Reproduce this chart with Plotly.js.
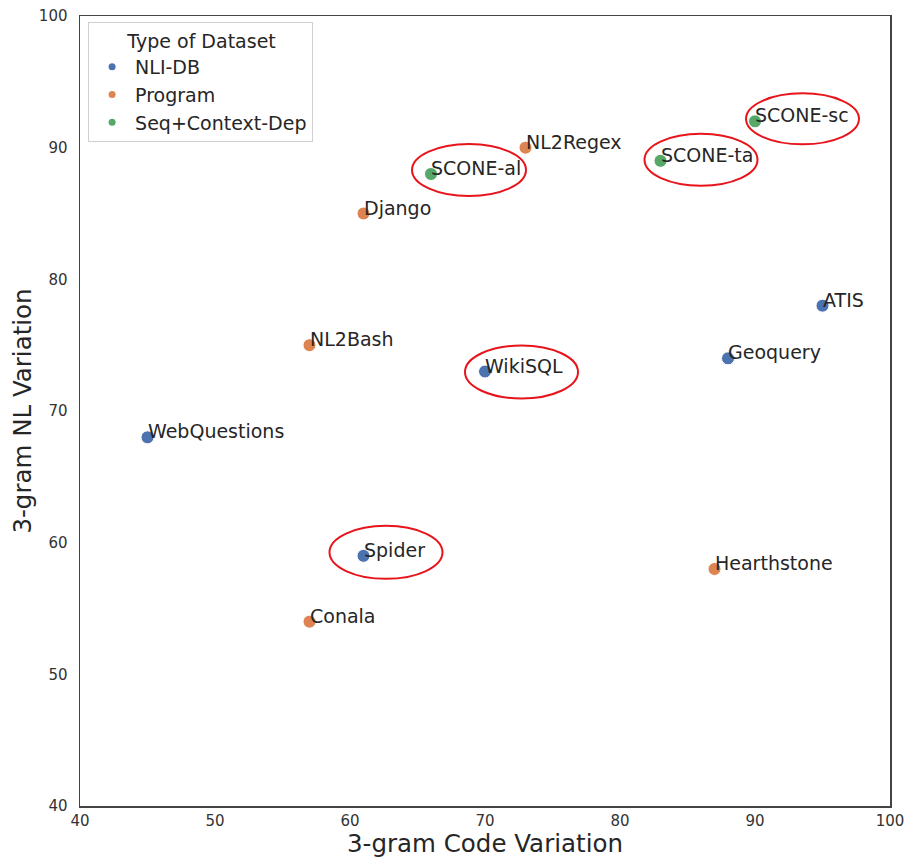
<!DOCTYPE html>
<html>
<head>
<meta charset="utf-8">
<script src="https://cdn.plot.ly/plotly-3.0.1.min.js"></script>
<style>
  html, body { margin: 0; padding: 0; background: #fff; }
  #chart { width: 909px; height: 858px; }
</style>
</head>
<body>
<div id="chart"></div>
<script>
// Dataset names with their 3-gram variation scores and dataset type
const datasets = ["WebQuestions", "Spider", "WikiSQL", "Geoquery", "ATIS",
                  "NL2Bash", "Conala", "Django", "NL2Regex", "Hearthstone",
                  "SCONE-al", "SCONE-ta", "SCONE-sc"];
const codeVariation = [45, 61, 70, 88, 95, 57, 57, 61, 73, 87, 66, 83, 90];
const nlVariation   = [68, 59, 73, 74, 78, 75, 54, 85, 90, 58, 88, 89, 92];
const datasetType   = ["NLI-DB", "NLI-DB", "NLI-DB", "NLI-DB", "NLI-DB",
                       "Program", "Program", "Program", "Program", "Program",
                       "Seq+Context-Dep", "Seq+Context-Dep", "Seq+Context-Dep"];
const typeOrder = ["NLI-DB", "Program", "Seq+Context-Dep"];
const xTicks = [40, 50, 60, 70, 80, 90, 100];
const yTicks = [40, 50, 60, 70, 80, 90, 100];
// Datasets circled in red
const circled = ["Spider", "WikiSQL", "SCONE-al", "SCONE-ta", "SCONE-sc"];

const palette = {"NLI-DB": "#4C72B0", "Program": "#DD8452", "Seq+Context-Dep": "#55A868"};

// Pixel extents of each red ring, relative to its point
const ringBox = {
  "Spider":   [-34, 79, -23, 30],
  "WikiSQL":  [-20, 93, -27, 26],
  "SCONE-al": [-19, 95, -22, 30],
  "SCONE-ta": [-16, 97, -25, 27],
  "SCONE-sc": [-9, 104, -23, 28]
};

const traces = [];
typeOrder.forEach(t => {
  const idx = datasets.map((_, i) => i).filter(i => datasetType[i] === t);
  traces.push({
    type: "scatter", mode: "markers", name: t, showlegend: false,
    x: idx.map(i => codeVariation[i]),
    y: idx.map(i => nlVariation[i]),
    marker: {size: 13, color: palette[t], line: {color: "#ffffff", width: 1}},
    hoverinfo: "skip"
  });
});
// Small dots for the legend entries
typeOrder.forEach(t => {
  traces.push({
    type: "scatter", mode: "markers", name: t,
    x: [null], y: [null],
    marker: {size: 7, color: palette[t]}
  });
});

const annotations = datasets.map((name, i) => ({
  x: codeVariation[i], y: nlVariation[i], xref: "x", yref: "y",
  text: name, showarrow: false, xanchor: "left", yanchor: "middle",
  xshift: -2, yshift: 6,
  font: {family: "DejaVu Sans", size: 19, color: "#262626"}
}));

const shapes = circled.map(name => {
  const i = datasets.indexOf(name);
  const b = ringBox[name];
  return {
    type: "circle", xref: "x", yref: "y",
    xsizemode: "pixel", ysizemode: "pixel",
    xanchor: codeVariation[i], yanchor: nlVariation[i],
    x0: b[0], x1: b[1], y0: b[2], y1: b[3],
    line: {color: "#e8141c", width: 2}
  };
});

const axisCommon = {
  showgrid: false, zeroline: false, showline: true, mirror: true,
  linecolor: "#444", linewidth: 1.5, ticks: "",
  tickfont: {family: "DejaVu Sans", size: 15, color: "#333"},
  fixedrange: true
};

const layout = {
  width: 909, height: 858,
  margin: {l: 80, r: 19, t: 16, b: 52},
  paper_bgcolor: "#ffffff", plot_bgcolor: "#ffffff",
  font: {family: "DejaVu Sans", color: "#262626"},
  xaxis: Object.assign({}, axisCommon, {
    range: [40, 100], tickvals: xTicks, ticktext: xTicks.map(String),
    ticklabelstandoff: 0,
    title: {text: "3-gram Code Variation", font: {family: "DejaVu Sans", size: 24.5, color: "#262626"}, standoff: 4}
  }),
  yaxis: Object.assign({}, axisCommon, {
    range: [40, 100], tickvals: yTicks, ticktext: yTicks.map(String),
    ticklabelstandoff: 8,
    title: {text: "3-gram NL Variation", font: {family: "DejaVu Sans", size: 24.5, color: "#262626"}, standoff: 0}
  }),
  legend: {
    x: 0.01, y: 0.992, xanchor: "left", yanchor: "top",
    bgcolor: "#ffffff", bordercolor: "#d0d0d0", borderwidth: 1,
    font: {family: "DejaVu Sans", size: 19, color: "#262626"},
    title: {text: "\u00a0\u00a0\u00a0\u00a0\u00a0\u00a0Type of Dataset", side: "top", font: {family: "DejaVu Sans", size: 19, color: "#262626"}},
    tracegroupgap: 0, itemwidth: 36
  },
  annotations: annotations,
  shapes: shapes,
  showlegend: true
};

Plotly.newPlot("chart", traces, layout, {displayModeBar: false, staticPlot: true});
</script>
</body>
</html>
